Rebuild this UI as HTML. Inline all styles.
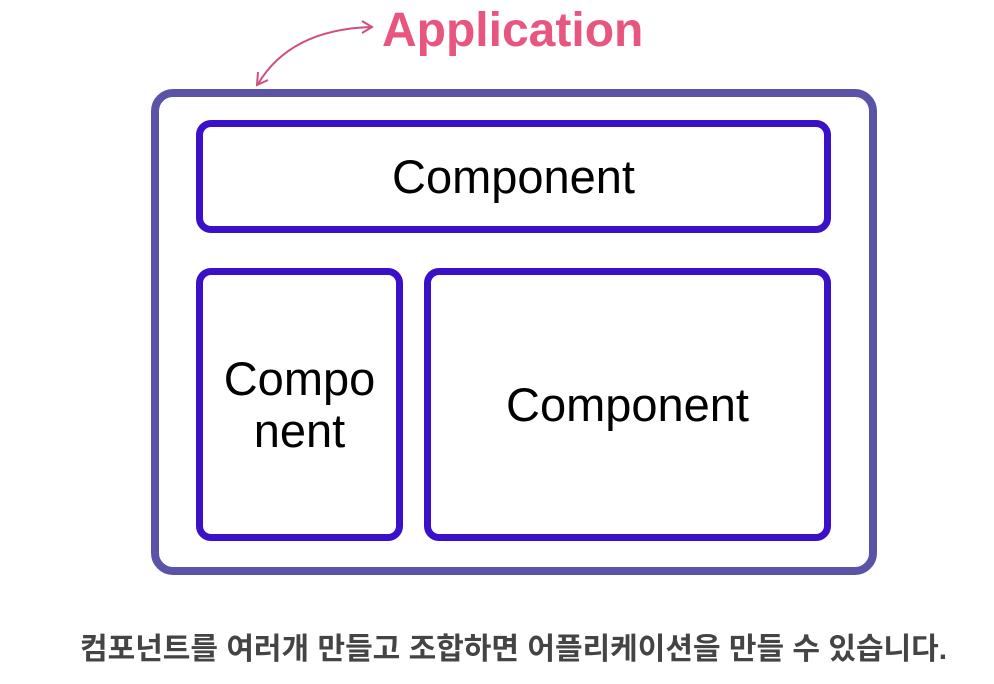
<!DOCTYPE html>
<html><head><meta charset="utf-8"><style>
body{margin:0;width:994px;height:684px;background:#fff;overflow:hidden;position:relative;font-family:"Liberation Sans",sans-serif}
.b{position:absolute;box-sizing:border-box;display:flex;align-items:center;justify-content:center;text-align:center;color:#000;font-size:47px;line-height:52px}
</style></head><body>
<svg width="994" height="684" style="position:absolute;left:0;top:0">
<path d="M258 84 Q290 30 370 27" fill="none" stroke="#cf4f80" stroke-width="2"/>
<path d="M362 21 L372 27 L362 33" fill="none" stroke="#cf4f80" stroke-width="2"/>
<path d="M258 72 L257 85 L268 80" fill="none" stroke="#cf4f80" stroke-width="2"/>
</svg>
<div style="position:absolute;left:382px;top:4px;font-size:48px;font-weight:bold;color:#e8567f;line-height:54px">Application</div>
<div class="b" style="left:151px;top:89px;width:726px;height:486px;border:8px solid #5a53a8;border-radius:22px"></div>
<div class="b" style="left:196px;top:120px;width:635px;height:113px;border:7px solid #3a10c8;border-radius:15px">Component</div>
<div class="b" style="left:196px;top:268px;width:207px;height:273px;border:7px solid #3a10c8;border-radius:15px">Compo<br>nent</div>
<div class="b" style="left:424px;top:268px;width:407px;height:273px;border:7px solid #3a10c8;border-radius:15px">Component</div>
<div style="position:absolute;left:80px;top:630px;font-family:'Liberation Sans','Noto Sans CJK KR',sans-serif;font-size:30px;font-weight:bold;color:#444;line-height:40px;white-space:nowrap">컴포넌트를 여러개 만들고 조합하면 어플리케이션을 만들 수 있습니다.</div>
</body></html>
